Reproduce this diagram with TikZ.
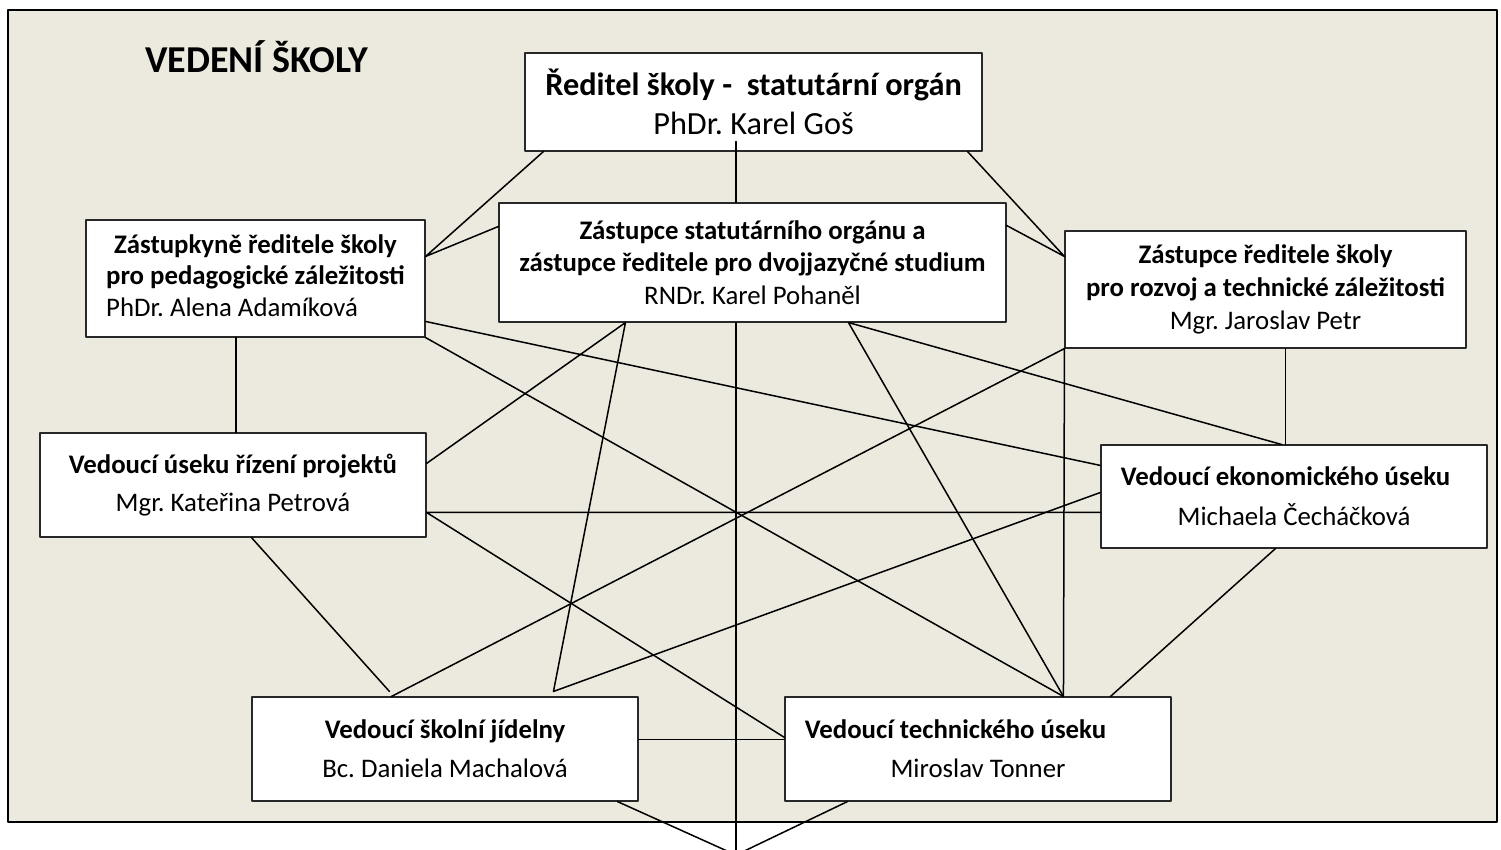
\documentclass[tikz,border=0pt]{standalone}
\usepackage{fontspec}
\setmainfont{Carlito}
\frenchspacing
\definecolor{skolabg}{RGB}{236,233,223}
\definecolor{ramec}{RGB}{40,40,40}
\tikzset{
	box/.style={draw=ramec, fill=white, line width=1.1pt, inner sep=0pt, align=center, font=\fontsize{26.8}{#1}\selectfont},
	box/.default=33,
	spoj/.style={line width=1.5pt}
}
\begin{document}
\begin{tikzpicture}[x=1pt, y=-1pt, line join=round, line cap=round]
	\clip (0,0) rectangle (1501,849);
	\draw[line width=2.4pt, fill=skolabg] (8,10) rectangle (1497,822);
	\node[anchor=base west, inner sep=0pt, font=\bfseries\fontsize{38}{42}\selectfont] (nadpis) at (145,72) {VEDENÍ ŠKOLY};
	\path (753.5,102) node[box, minimum width=457pt, minimum height=98pt, font=\fontsize{32.3}{39}\selectfont] (red)
			{\textbf{Ředitel školy -\ \ statutární orgán}\\PhDr. Karel Goš}
		(752.5,262.5) node[box=32.5, minimum width=507pt, minimum height=119pt] (zs)
			{\textbf{Zástupce statutárního orgánu a}\\\textbf{zástupce ředitele pro dvojjazyčné studium}\\RNDr. Karel Pohaněl}
		(255.5,278.5) node[box=31.5, minimum width=339pt, minimum height=117pt] (zk)
			{\begin{tabular}{@{}l@{}}\multicolumn{1}{@{}c@{}}{\bfseries Zástupkyně ředitele školy}\\\bfseries pro pedagogické záležitosti\\PhDr. Alena Adamíková\end{tabular}}
		(1265.5,289.5) node[box, minimum width=401pt, minimum height=117pt] (zr)
			{\textbf{Zástupce ředitele školy}\\\textbf{pro rozvoj a technické záležitosti}\\Mgr. Jaroslav Petr}
		(233,485) node[box=38, minimum width=386pt, minimum height=104pt] (pr)
			{\textbf{Vedoucí úseku řízení projektů}\\Mgr. Kateřina Petrová}
		(1294,496.5) node[box=40, minimum width=386pt, minimum height=103pt] (ek)
			{\hspace*{-17pt}\textbf{Vedoucí ekonomického úseku}\\Michaela Čecháčková}
		(445,749) node[box=39, minimum width=386pt, minimum height=104pt] (jid)
			{\textbf{Vedoucí školní jídelny}\\Bc. Daniela Machalová}
		(978,749) node[box=39, minimum width=386pt, minimum height=104pt] (tech)
			{\hspace*{-45pt}\textbf{Vedoucí technického úseku}\\Miroslav Tonner}
		(736,855) coordinate (zaklad);
	\draw[spoj] ([xshift=19pt]red.south west) -- ([yshift=-37pt]zk.north east) -- ([yshift=-24pt]zs.north west);
	\draw[spoj] ([xshift=-17.5pt, yshift=10pt]red.south) -- ([xshift=-16.5pt]zs.north);
	\draw[spoj] ([xshift=-15pt]red.south east) -- ([yshift=-26pt]zr.north west) -- ([yshift=-23pt]zs.north east);
	\draw[spoj] ([yshift=-31pt]pr.north east) -- ([xshift=127pt]zs.south west) -- ([xshift=302pt, yshift=5pt]jid.north west) -- ([yshift=-48pt]ek.north west);
	\draw[spoj] ([xshift=-16.5pt]zs.south) -- (zaklad);
	\draw[spoj] ([xshift=279pt]tech.north west) -- ([xshift=350pt]zs.south west) -- ([xshift=181pt]ek.north west);
	\draw[spoj] ([yshift=-102pt]zk.north east) -- ([yshift=-21pt]ek.north west);
	\draw[spoj] (zk.south east) -- ([xshift=279pt]tech.north west);
	\draw[spoj] ([xshift=-19.5pt]zk.south) -- ([xshift=3pt]pr.north);
	\draw[spoj] ([yshift=-68pt]ek.north west) -- ([yshift=-80pt]pr.north east) -- ([yshift=-41pt]tech.north west);
	\draw[spoj] ([xshift=212pt]pr.south west) -- ([xshift=138pt, yshift=5pt]jid.north west);
	\draw[spoj] ([xshift=140pt]jid.north west) -- (zr.south west) -- ([xshift=279pt]tech.north west);
	\draw[spoj] ([xshift=221pt]zr.south west) -- ([xshift=185pt]ek.north west);
	\draw[spoj] ([xshift=175pt]ek.south west) -- ([xshift=326pt]tech.north west);
	\draw[spoj] ([yshift=-43pt]jid.north east) -- ([yshift=-43pt]tech.north west);
	\draw[spoj] ([xshift=366pt]jid.south west) -- (zaklad) -- ([xshift=63pt]tech.south west);
\end{tikzpicture}
\end{document}
